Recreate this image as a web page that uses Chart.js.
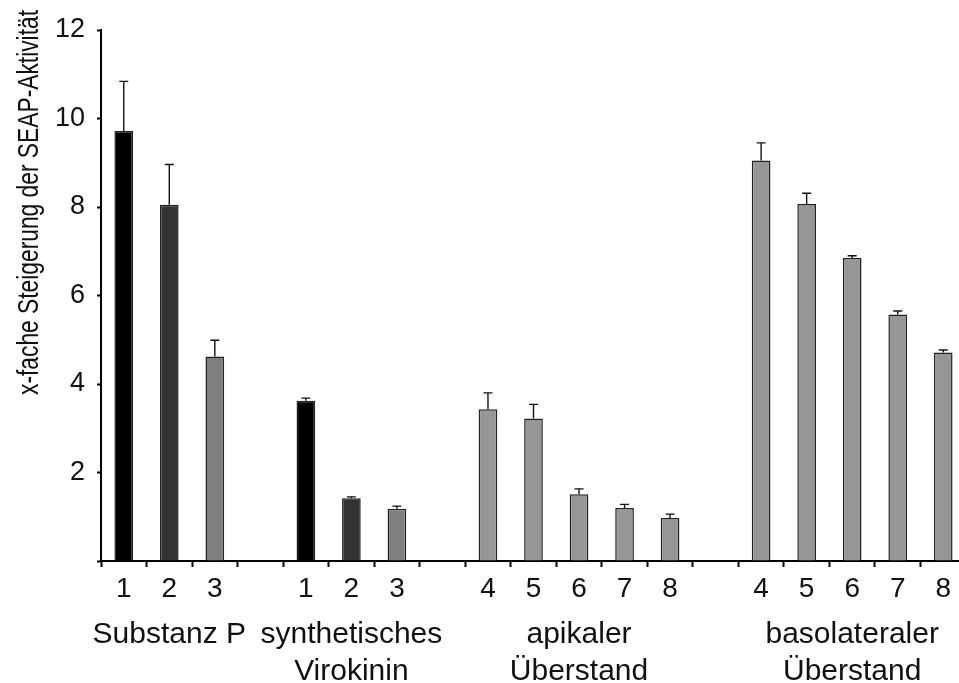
<!DOCTYPE html>
<html>
<head>
<meta charset="utf-8">
<script src="https://cdn.jsdelivr.net/npm/chart.js@4"></script>
<style>
  html, body { margin: 0; padding: 0; overflow: hidden; background: #fff; }
  #chart { display: block; }
</style>
</head>
<body>
<!-- a little wider than the window so the last slot is cut at the edge like in the source -->
<canvas id="chart" width="966" height="683" style="width: 966px; height: 683px;"></canvas>
<script>
// tick labels under each bar slot ('' = empty gap slot)
const tickLabels = ['1', '2', '3', '', '1', '2', '3', '', '4', '5', '6', '7', '8', '', '4', '5', '6', '7', '8'];
// mean x-fold increase per slot
const values = [9.72, 8.05, 4.62, null, 3.62, 1.42, 1.18, null, 3.43, 3.22, 1.51, 1.20, 0.97, null, 9.05, 8.07, 6.85, 5.57, 4.71];
// upper error (standard deviation)
const errors = [1.12, 0.91, 0.37, null, 0.06, 0.03, 0.06, null, 0.37, 0.32, 0.12, 0.08, 0.09, null, 0.40, 0.24, 0.05, 0.08, 0.06];
// group names and the slot each one is centred under
const groupLabels = [['Substanz P'], ['synthetisches', 'Virokinin'], ['apikaler', 'Überstand'], ['basolateraler', 'Überstand']];
const groupSlots = [1, 5, 10, 16];
const yTicks = [2, 4, 6, 8, 10, 12];
const yTitle = 'x-fache Steigerung der SEAP-Aktivität';

const FONT = "'Liberation Sans', Arial, sans-serif";

// bar fill per slot
const shades = ['#000000', '#333333', '#7f7f7f'];
const barColors = values.map((v, i) => {
  if (i < 3) return shades[i];
  if (i < 7) return shades[i - 4];
  return '#969696';
});

// error bars: only the upper whisker with a cap
const errorBars = {
  id: 'errorBars',
  afterDatasetsDraw(chart) {
    const { ctx, scales: { y } } = chart;
    const meta = chart.getDatasetMeta(0);
    ctx.save();
    ctx.strokeStyle = '#111';
    ctx.lineWidth = 1.4;
    meta.data.forEach((bar, i) => {
      if (values[i] == null) return;
      const top = y.getPixelForValue(values[i] + errors[i]);
      ctx.beginPath();
      ctx.moveTo(bar.x, bar.y);
      ctx.lineTo(bar.x, top);
      ctx.moveTo(bar.x - 4.5, top);
      ctx.lineTo(bar.x + 4.5, top);
      ctx.stroke();
    });
    ctx.restore();
  }
};

// group captions under the tick numbers, and the rotated y title
const captions = {
  id: 'captions',
  afterDraw(chart) {
    const { ctx, scales: { x } } = chart;
    ctx.save();
    ctx.fillStyle = '#111';
    ctx.font = `30px ${FONT}`;
    ctx.textAlign = 'center';
    ctx.textBaseline = 'alphabetic';
    groupLabels.forEach((lines, g) => {
      const cx = x.getPixelForValue(groupSlots[g]);
      lines.forEach((line, k) => {
        ctx.fillText(line, cx, 643 + k * 37);
      });
    });

    // the source title is squeezed along its length (about 385px tall)
    const squeeze = 385 / ctx.measureText(yTitle).width;
    ctx.translate(30, 10);
    ctx.rotate(-Math.PI / 2);
    ctx.scale(squeeze, 1);
    ctx.textAlign = 'right';
    ctx.textBaseline = 'middle';
    ctx.fillText(yTitle, 0, 0);
    ctx.restore();
  }
};

new Chart(document.getElementById('chart'), {
  type: 'bar',
  data: {
    labels: tickLabels,
    datasets: [{
      data: values,
      backgroundColor: barColors,
      borderColor: '#222',
      borderWidth: 1.5,
      barPercentage: 0.41,
      categoryPercentage: 1,
      skipNull: true,
    }],
  },
  options: {
    responsive: false,
    animation: false,
    devicePixelRatio: 1,
    layout: { padding: { top: 30, left: 0, right: 0, bottom: 0 } },
    plugins: {
      legend: { display: false },
      tooltip: { enabled: false },
    },
    scales: {
      x: {
        grid: {
          offset: true,
          drawOnChartArea: false,
          drawTicks: true,
          tickLength: 6,
          tickWidth: 2,
          tickColor: '#000',
        },
        border: { color: '#000', width: 2 },
        ticks: {
          color: '#111',
          font: { family: FONT, size: 28 },
          padding: 5,
          autoSkip: false,
          maxRotation: 0,
        },
        afterFit(scale) { scale.height = 683 - 561; },
      },
      y: {
        min: 0,
        max: 12,
        afterBuildTicks(scale) {
          scale.ticks = [0].concat(yTicks).map(v => ({ value: v }));
        },
        grid: {
          drawOnChartArea: false,
          drawTicks: true,
          tickLength: 4,
          tickWidth: 2,
          tickColor: '#000',
        },
        border: { color: '#000', width: 2 },
        ticks: {
          color: '#111',
          font: { family: FONT, size: 27 },
          padding: 12,
          callback: (v) => (v === 0 ? '' : String(v)),
        },
        afterFit(scale) { scale.width = 101; },
      },
    },
  },
  plugins: [errorBars, captions],
});
</script>
</body>
</html>
